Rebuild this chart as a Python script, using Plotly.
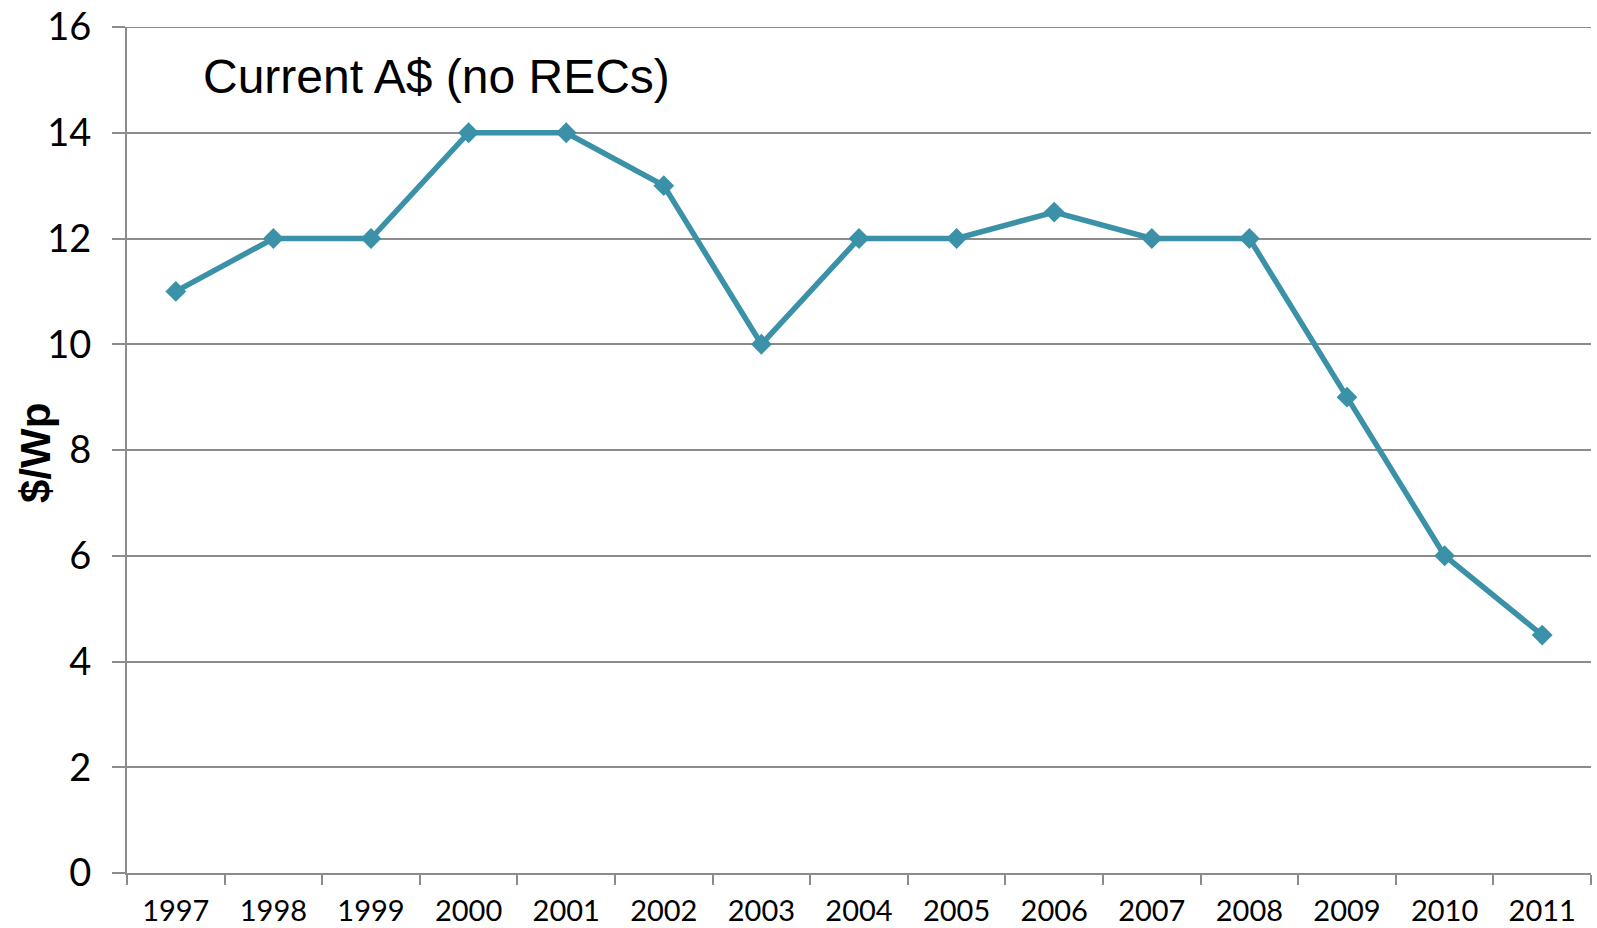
import plotly.graph_objects as go

years = ["1997", "1998", "1999", "2000", "2001", "2002", "2003", "2004",
         "2005", "2006", "2007", "2008", "2009", "2010", "2011"]
price = [11, 12, 12, 14, 14, 13, 10, 12, 12, 12.5, 12, 12, 9, 6, 4.5]
y_ticks = [0, 2, 4, 6, 8, 10, 12, 14, 16]

line_color = "#3A91A8"
grid_color = "#8C8C8C"

fig = go.Figure()
fig.add_trace(go.Scatter(
    x=years, y=price, mode="lines+markers",
    line=dict(color=line_color, width=5.5),
    marker=dict(symbol="diamond", size=16, color=line_color),
    showlegend=False,
))

fig.update_layout(
    width=1597, height=928,
    margin=dict(l=127, r=6, t=27, b=55, autoexpand=False),
    paper_bgcolor="white", plot_bgcolor="white",
    xaxis=dict(
        type="category", range=[-0.5, len(years) - 0.5],
        tickson="boundaries", ticks="outside", ticklen=10,
        tickcolor=grid_color, tickwidth=2,
        showline=True, linecolor=grid_color, linewidth=2,
        showgrid=False, zeroline=False, automargin=False,
        tickfont=dict(family="Lato, Open Sans, sans-serif", size=29, color="black"),
        ticklabelstandoff=11, ticklabeloverflow="allow",
    ),
    yaxis=dict(
        range=[0, 16], tickvals=y_ticks, ticks="outside", ticklen=13,
        tickcolor=grid_color, tickwidth=2,
        showline=True, linecolor=grid_color, linewidth=2,
        showgrid=True, gridcolor=grid_color, gridwidth=2,
        zeroline=False, automargin=False,
        tickfont=dict(family="Lato, Open Sans, sans-serif", size=38, color="black"),
        ticklabelstandoff=13, ticklabeloverflow="allow",
    ),
    shapes=[
        dict(type="line", xref="paper", yref="y", x0=0, x1=1,
             y0=y_ticks[-1], y1=y_ticks[-1], layer="below",
             line=dict(color=grid_color, width=2)),
    ],
    annotations=[
        dict(text="Current A$ (no RECs)", xref="paper", yref="paper",
             x=(201 - 127) / 1464, y=(873 - 76) / 846,
             xanchor="left", yanchor="middle", showarrow=False,
             font=dict(family="Liberation Sans, Arial, sans-serif", size=48, color="black")),
        dict(text="<b>$/Wp</b>", xref="paper", yref="paper",
             x=(36 - 127) / 1464, y=(873 - 453) / 846, textangle=-90,
             xanchor="center", yanchor="middle", showarrow=False,
             font=dict(family="Liberation Sans, Arial, sans-serif", size=42, color="black")),
    ],
)

fig.write_html("out.html",
               config={"displayModeBar": False},
               post_script="document.body.style.margin='0';document.body.style.overflow='hidden';")
